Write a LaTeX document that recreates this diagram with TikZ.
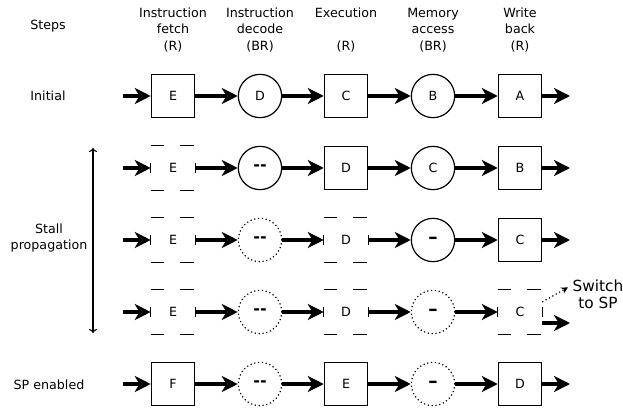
\documentclass[tikz,border=0pt]{standalone}
\usepackage{fontspec}
\setmainfont{DejaVu Sans}
\usetikzlibrary{arrows.meta}

\begin{document}
\begin{tikzpicture}[x=0.75pt, y=-0.75pt, every node/.style={font=\fontsize{9.5}{12.5}\selectfont, align=center},
	stage/.style={draw, line width=0.9pt, minimum size=32.5pt, inner sep=0pt},
	reg/.style={stage, rectangle},
	buf/.style={stage, circle},
	idle/.style={buf, dotted},
	held/.style={reg, draw=none},
	nop/.style={font=\fontsize{12}{12}\selectfont\bfseries},
	wnop/.style={font=\fontsize{14}{14}\selectfont\bfseries},
	flow/.style={line width=2.9pt, -{Stealth[length=12pt,width=12pt,inset=3.5pt]}}]
			\useasboundingbox (0,0) rectangle (623,409);
			% headers
			\node (steps) at (48,26) {Steps};
			\node (hf) at (173,30) {Instruction\\fetch\\(R)};
			\node (hd) at (260,30) {Instruction\\decode\\(BR)};
			\node (hx) at (346,30) {Execution\\~\\(R)};
			\node (hm) at (433,30) {Memory\\access\\(BR)};
			\node (hw) at (520,30) {Write\\back\\(R)};
			\node (linit) at (48,96) {Initial};
			\node (lstall) at (49,238) {Stall\\propagation};
			\node (lsp) at (49,385) {SP enabled};
			\coordinate (stalltop) at (93,148);
			\coordinate (stallbot) at (93,333);
			\draw[line width=0.8pt, {To[length=3pt,width=6pt]}-{To[length=3pt,width=6pt]}] (stalltop) -- (stallbot);
			% initial
			\node[reg] (f1) at (173,96) {E};
			\node[buf] (d1) at (260,96) {D};
			\node[reg] (x1) at (346,96) {C};
			\node[buf] (m1) at (433,96) {B};
			\node[reg] (w1) at (520,96) {A};
			% stall propagation
			\node[held] (f2) at (173,168) {E};
			\node[buf, nop] (d2) at (260,168) {-{}-};
			\node[reg] (x2) at (346,168) {D};
			\node[buf] (m2) at (433,168) {C};
			\node[reg] (w2) at (520,168) {B};
			\node[held] (f3) at (173,240) {E};
			\node[idle, nop] (d3) at (260,240) {-{}-};
			\node[held] (x3) at (346,240) {D};
			\node[buf, wnop] (m3) at (433,240) {–};
			\node[reg] (w3) at (520,240) {C};
			\node[held] (f4) at (173,312) {E};
			\node[idle, nop] (d4) at (260,312) {-{}-};
			\node[held] (x4) at (346,312) {D};
			\node[idle, wnop] (m4) at (433,312) {–};
			\node[held] (w4) at (520,312) {C};
			% SP enabled
			\node[reg] (f5) at (173,384) {F};
			\node[idle, nop] (d5) at (260,384) {-{}-};
			\node[reg] (x5) at (346,384) {E};
			\node[idle, wnop] (m5) at (433,384) {–};
			\node[reg] (w5) at (520,384) {D};
			% stalled registers
			\foreach \n in {f2,f3,x3,f4,x4,w4} {
				\draw[line width=0.9pt, dash pattern=on 10.25pt off 12pt] (\n.north west) -- (\n.north east);
				\draw[line width=0.9pt, dash pattern=on 10.25pt off 12pt] (\n.south west) -- (\n.south east);
				\draw[line width=0.9pt] (\n.west) ++(0,-5) -- ++(0,10);
				\draw[line width=0.9pt] (\n.east) ++(0,-5) -- ++(0,10);
			}
			% connectors
			\foreach \r/\y in {1/96,2/168,3/240,4/312,5/384} {
				\coordinate (in\r) at (123,\y);
				\coordinate (out\r) at (570,\y);
				\draw[flow] (in\r) -- (f\r);
				\draw[flow] (f\r) -- (d\r);
				\draw[flow] (d\r) -- (x\r);
				\draw[flow] (x\r) -- (m\r);
				\draw[flow] (m\r) -- (w\r);
			}
			\foreach \r in {1,2,3,5}
				\draw[flow] (w\r) -- (out\r);
			\coordinate (out4) at (570,323);
			\draw[flow] (w4.east |- out4) -- (out4);
			\node[font=\fontsize{11.5}{12.75}\selectfont] (sw) at (598,294) {Switch\\to SP};
			\draw[line width=0.9pt, dotted, -{Stealth[length=5pt,width=5pt]}] ([yshift=7.5pt]w4.east) -- ([yshift=5pt]sw.west);
			\end{tikzpicture}
\end{document}
